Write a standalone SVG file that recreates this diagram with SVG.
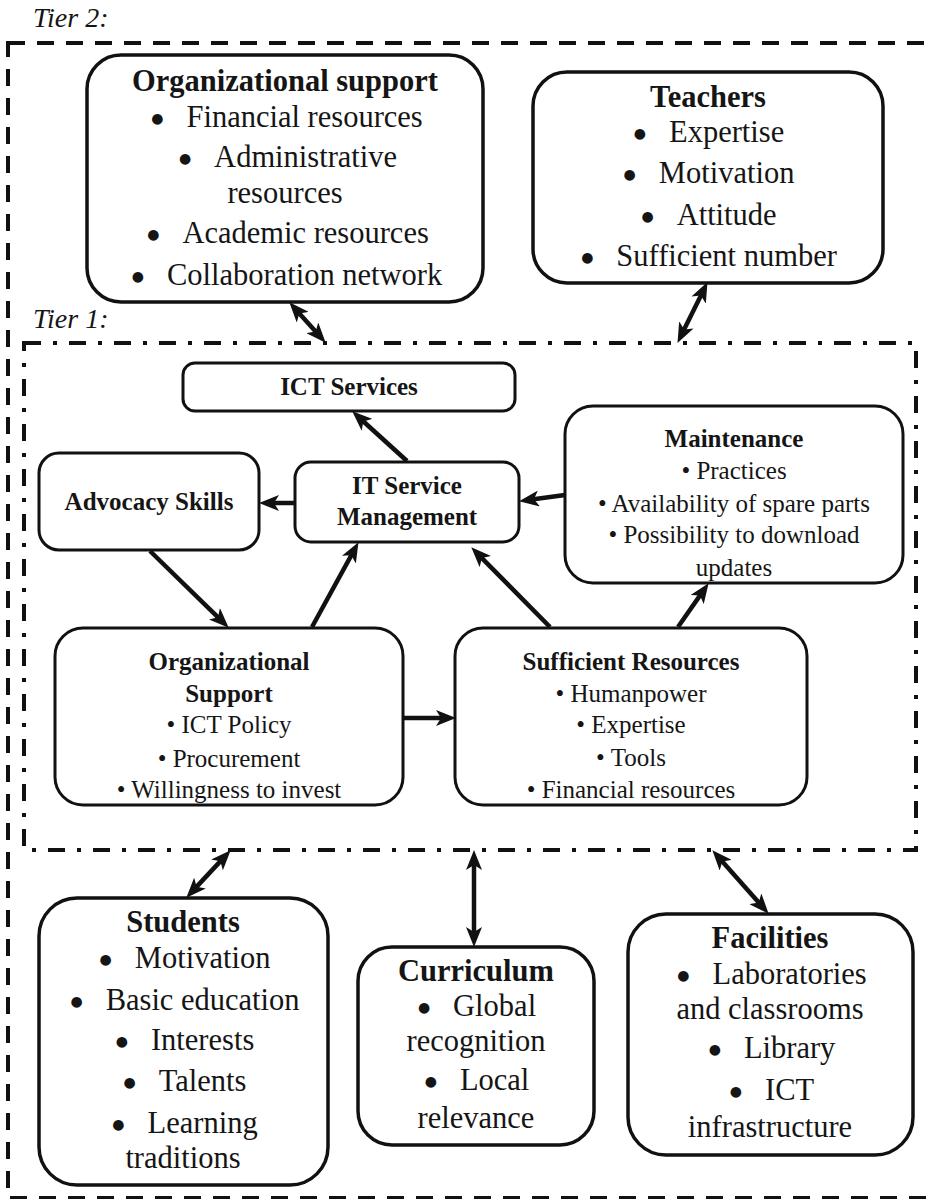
<svg xmlns="http://www.w3.org/2000/svg" width="929" height="1199" viewBox="0 0 929 1199">
  <style>
    text { font-family: "Liberation Serif", "Times New Roman", serif; fill: #151515; }
    .t2 { font-size: 30.5px; text-anchor: middle; }
    .t1 { font-size: 25px; text-anchor: middle; }
    .b { font-weight: bold; }
    .bul { font-family: "DejaVu Sans", sans-serif; font-size: 14px; }
    .tier { font-size: 28px; font-style: italic; }
    .box2 { fill: #fff; stroke: #111; stroke-width: 3.5; }
    .box1 { fill: #fff; stroke: #111; stroke-width: 3; }
    .conn { stroke: #111; stroke-width: 4.5; fill: none; }
  </style>
  <defs>
    <marker id="ah" viewBox="0 0 20 16" refX="13" refY="8" markerWidth="20" markerHeight="16" orient="auto-start-reverse" markerUnits="userSpaceOnUse">
      <path d="M0,0 L20,8 L0,16 L5,8 z" fill="#111"/>
    </marker>
  </defs>
  <rect width="929" height="1199" fill="#fff"/>

  <g id="tier2">
    <text class="tier" x="33" y="27">Tier 2:</text>
    <rect x="8" y="43" width="940" height="1155" fill="none" stroke="#111" stroke-width="4" stroke-dasharray="17 12"/>
  </g>
  <g id="tier1">
    <text class="tier" x="33" y="328">Tier 1:</text>
    <rect x="24" y="343" width="892" height="507" fill="none" stroke="#111" stroke-width="4" stroke-dasharray="17 12 4 12"/>
  </g>

  <g id="org-support-t2">
    <rect class="box2" x="87" y="55" width="396" height="247" rx="34"/>
    <text class="t2 b" x="285" y="91">Organizational support</text>
    <text class="t2" x="287" y="127"><tspan class="bul" dy="-4">●</tspan><tspan dx="23" dy="4">Financial resources</tspan></text>
    <text class="t2" x="288" y="167"><tspan class="bul" dy="-4">●</tspan><tspan dx="23" dy="4">Administrative</tspan></text>
    <text class="t2" x="285" y="203">resources</text>
    <text class="t2" x="288" y="243"><tspan class="bul" dy="-4">●</tspan><tspan dx="23" dy="4">Academic resources</tspan></text>
    <text class="t2" x="287" y="285"><tspan class="bul" dy="-4">●</tspan><tspan dx="23" dy="4">Collaboration network</tspan></text>
  </g>

  <g id="teachers">
    <rect class="box2" x="533" y="72" width="350" height="211" rx="34"/>
    <text class="t2 b" x="708" y="107">Teachers</text>
    <text class="t2" x="709" y="142"><tspan class="bul" dy="-4">●</tspan><tspan dx="23" dy="4">Expertise</tspan></text>
    <text class="t2" x="709" y="183"><tspan class="bul" dy="-4">●</tspan><tspan dx="23" dy="4">Motivation</tspan></text>
    <text class="t2" x="709" y="225"><tspan class="bul" dy="-4">●</tspan><tspan dx="23" dy="4">Attitude</tspan></text>
    <text class="t2" x="709" y="266"><tspan class="bul" dy="-4">●</tspan><tspan dx="23" dy="4">Sufficient number</tspan></text>
  </g>

  <g id="ict-services">
    <rect class="box1" x="183" y="363" width="332" height="48" rx="12"/>
    <text class="t1 b" x="349" y="395">ICT Services</text>
  </g>

  <g id="advocacy-skills">
    <rect class="box1" x="39" y="453" width="220" height="97" rx="20"/>
    <text class="t1 b" x="149" y="510">Advocacy Skills</text>
  </g>

  <g id="it-service-management">
    <rect class="box1" x="295" y="462" width="224" height="80" rx="16"/>
    <text class="t1 b" x="407" y="494">IT Service</text>
    <text class="t1 b" x="407" y="525">Management</text>
  </g>

  <g id="maintenance">
    <rect class="box1" x="565" y="406" width="338" height="177" rx="28"/>
    <text class="t1 b" x="734" y="447">Maintenance</text>
    <text class="t1" x="734" y="479">• Practices</text>
    <text class="t1" x="734" y="512">• Availability of spare parts</text>
    <text class="t1" x="734" y="543">• Possibility to download</text>
    <text class="t1" x="734" y="576">updates</text>
  </g>

  <g id="org-support-t1">
    <rect class="box1" x="55" y="628" width="348" height="177" rx="28"/>
    <text class="t1 b" x="229" y="670">Organizational</text>
    <text class="t1 b" x="229" y="702">Support</text>
    <text class="t1" x="229" y="733">• ICT Policy</text>
    <text class="t1" x="229" y="767">• Procurement</text>
    <text class="t1" x="229" y="798">• Willingness to invest</text>
  </g>

  <g id="sufficient-resources">
    <rect class="box1" x="455" y="628" width="352" height="177" rx="28"/>
    <text class="t1 b" x="631" y="670">Sufficient Resources</text>
    <text class="t1" x="631" y="702">• Humanpower</text>
    <text class="t1" x="631" y="733">• Expertise</text>
    <text class="t1" x="631" y="766">• Tools</text>
    <text class="t1" x="631" y="798">• Financial resources</text>
  </g>

  <g id="students">
    <rect class="box2" x="39" y="898" width="289" height="287" rx="38"/>
    <text class="t2 b" x="183" y="932">Students</text>
    <text class="t2" x="185" y="968"><tspan class="bul" dy="-4">●</tspan><tspan dx="23" dy="4">Motivation</tspan></text>
    <text class="t2" x="185" y="1010"><tspan class="bul" dy="-4">●</tspan><tspan dx="23" dy="4">Basic education</tspan></text>
    <text class="t2" x="185" y="1050"><tspan class="bul" dy="-4">●</tspan><tspan dx="23" dy="4">Interests</tspan></text>
    <text class="t2" x="185" y="1091"><tspan class="bul" dy="-4">●</tspan><tspan dx="23" dy="4">Talents</tspan></text>
    <text class="t2" x="185" y="1133"><tspan class="bul" dy="-4">●</tspan><tspan dx="23" dy="4">Learning</tspan></text>
    <text class="t2" x="183" y="1168">traditions</text>
  </g>

  <g id="curriculum">
    <rect class="box2" x="358" y="947" width="236" height="198" rx="34"/>
    <text class="t2 b" x="476" y="981">Curriculum</text>
    <text class="t2" x="477" y="1016"><tspan class="bul" dy="-4">●</tspan><tspan dx="23" dy="4">Global</tspan></text>
    <text class="t2" x="476" y="1051">recognition</text>
    <text class="t2" x="477" y="1090"><tspan class="bul" dy="-4">●</tspan><tspan dx="23" dy="4">Local</tspan></text>
    <text class="t2" x="476" y="1128">relevance</text>
  </g>

  <g id="facilities">
    <rect class="box2" x="628" y="914" width="285" height="241" rx="38"/>
    <text class="t2 b" x="770" y="948">Facilities</text>
    <text class="t2" x="772" y="984"><tspan class="bul" dy="-4">●</tspan><tspan dx="23" dy="4">Laboratories</tspan></text>
    <text class="t2" x="770" y="1019">and classrooms</text>
    <text class="t2" x="772" y="1058"><tspan class="bul" dy="-4">●</tspan><tspan dx="23" dy="4">Library</tspan></text>
    <text class="t2" x="772" y="1100"><tspan class="bul" dy="-4">●</tspan><tspan dx="23" dy="4">ICT</tspan></text>
    <text class="t2" x="770" y="1137">infrastructure</text>
  </g>

  <g id="connectors">
    <path class="conn" d="M294,307.5 L321,337.5" marker-start="url(#ah)" marker-end="url(#ah)"/>
    <path class="conn" d="M704.4,288.4 L680.6,336.6" marker-start="url(#ah)" marker-end="url(#ah)"/>
    <path class="conn" d="M407,461 L357.4,416" marker-end="url(#ah)"/>
    <path class="conn" d="M295,503 L266,503" marker-end="url(#ah)"/>
    <path class="conn" d="M565,495 L526,500.2" marker-end="url(#ah)"/>
    <path class="conn" d="M150,551 L223.7,622.8" marker-end="url(#ah)"/>
    <path class="conn" d="M312,627 L355.1,548.3" marker-end="url(#ah)"/>
    <path class="conn" d="M550,627 L476.2,552.3" marker-end="url(#ah)"/>
    <path class="conn" d="M678,627 L704.6,588.9" marker-end="url(#ah)"/>
    <path class="conn" d="M404,718 L449,718" marker-end="url(#ah)"/>
    <path class="conn" d="M191.1,892.6 L225.9,855.4" marker-start="url(#ah)" marker-end="url(#ah)"/>
    <path class="conn" d="M474,940 L474,857" marker-start="url(#ah)" marker-end="url(#ah)"/>
    <path class="conn" d="M764,908.5 L717,855.5" marker-start="url(#ah)" marker-end="url(#ah)"/>
  </g>
</svg>
